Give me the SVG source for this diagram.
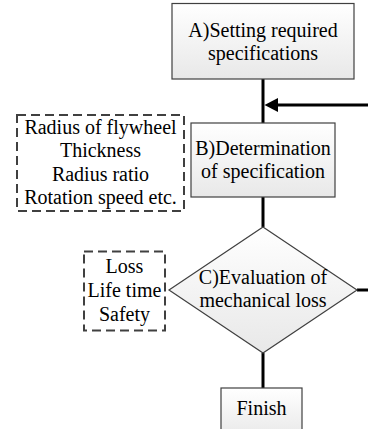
<svg xmlns="http://www.w3.org/2000/svg" width="368" height="429" viewBox="0 0 368 429">
<defs>
<linearGradient id="g" x1="0" y1="0" x2="0" y2="1">
<stop offset="0" stop-color="#ffffff"/>
<stop offset="1" stop-color="#e8e8e8"/>
</linearGradient>
<marker id="ah" markerWidth="14" markerHeight="14" viewBox="0 0 14 14" refX="1" refY="7" orient="auto" markerUnits="userSpaceOnUse">
<path d="M14,0 L0,7 L14,14 Z" fill="#000"/>
</marker>
<style>
.box{fill:url(#g);stroke:#404040;stroke-width:1.2}
.dash{fill:none;stroke:#404040;stroke-width:2;stroke-dasharray:9 5}
.t{font-family:"Liberation Serif","Times New Roman",serif;font-size:20px;fill:#000;text-anchor:middle}
.c{stroke:#000;stroke-width:3;fill:none}
</style>
</defs>
<rect width="368" height="429" fill="#fff"/>
<g id="connectors">
<line class="c" x1="263" y1="79" x2="263" y2="123"/>
<line class="c" x1="368" y1="105" x2="278" y2="105"/>
<path d="M278,98 L264.5,105 L278,112 Z" fill="#000"/>
<line class="c" x1="263" y1="197" x2="263" y2="227"/>
<line class="c" x1="263" y1="353" x2="263" y2="388"/>
<line class="c" x1="357" y1="290" x2="368" y2="290"/>
</g>
<g id="nodeA">
<rect class="box" x="172" y="3.5" width="182" height="75.5"/>
<text class="t" x="263" y="36.5">A)Setting required</text>
<text class="t" x="263" y="59.5">specifications</text>
</g>
<g id="params">
<rect class="dash" x="17" y="115" width="167" height="96"/>
<text class="t" x="100.5" y="133.5">Radius of flywheel</text>
<text class="t" x="100.5" y="157">Thickness</text>
<text class="t" x="100.5" y="180.5">Radius ratio</text>
<text class="t" x="100.5" y="204">Rotation speed etc.</text>
</g>
<g id="nodeB">
<rect class="box" x="191" y="123" width="144" height="74"/>
<text class="t" x="263" y="155">B)Determination</text>
<text class="t" x="263" y="178">of specification</text>
</g>
<g id="criteria">
<rect class="dash" x="84" y="251.5" width="81" height="79"/>
<text class="t" x="124.5" y="273">Loss</text>
<text class="t" x="124.5" y="297">Life time</text>
<text class="t" x="124.5" y="320.5">Safety</text>
</g>
<g id="nodeC">
<path class="box" d="M263,227 L357,290 L263,353 L169,290 Z"/>
<text class="t" x="263" y="283.5">C)Evaluation of</text>
<text class="t" x="263" y="306.5">mechanical loss</text>
</g>
<g id="finish">
<rect class="box" x="221" y="388" width="81" height="50"/>
<text class="t" x="261.5" y="415">Finish</text>
</g>
</svg>
